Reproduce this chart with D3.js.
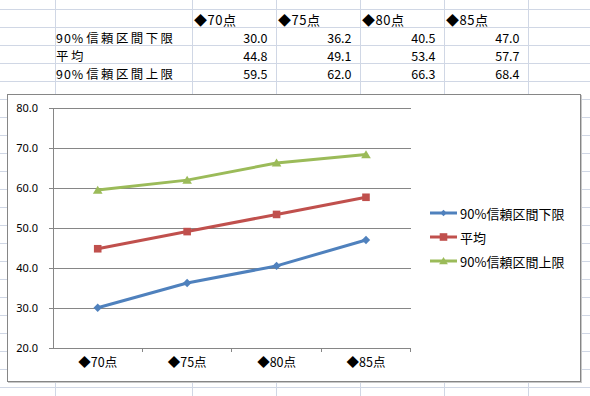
<!DOCTYPE html>
<html>
<head>
<meta charset="utf-8">
<script src="https://cdn.jsdelivr.net/npm/d3@7"></script>
<style>
  html, body { margin: 0; padding: 0; background: #fff; }
  svg { display: block; }
</style>
</head>
<body>
<div id="chart"></div>
<script>
// data
const categories = ["◆70点", "◆75点", "◆80点", "◆85点"];
const seriesNames = ["90%信頼区間下限", "平均", "90%信頼区間上限"];
const lower = [30.0, 36.2, 40.5, 47.0];
const mean = [44.8, 49.1, 53.4, 57.7];
const upper = [59.5, 62.0, 66.3, 68.4];
const yTicks = [20, 30, 40, 50, 60, 70, 80];

const width = 590;
const height = 396;

const series = [
  { name: seriesNames[0], values: lower, color: "#4F81BD", marker: "diamond" },
  { name: seriesNames[1], values: mean, color: "#C0504D", marker: "square" },
  { name: seriesNames[2], values: upper, color: "#9BBB59", marker: "triangle" }
];

const svg = d3.select("#chart").append("svg")
  .attr("width", width)
  .attr("height", height);

// spreadsheet grid behind everything
const colEdges = [55.5, 192.5, 276.5, 360.5, 444.5, 528.5];
const rowEdges = d3.range(0, 22).map(i => 9.5 + 18 * i).filter(y => y < height);

const grid = svg.append("g").attr("stroke", "#d0d7e5").attr("stroke-width", 1);
grid.selectAll("line.row").data(rowEdges).enter().append("line")
  .attr("x1", 0).attr("x2", width)
  .attr("y1", d => d).attr("y2", d => d);
grid.selectAll("line.col").data(colEdges).enter().append("line")
  .attr("y1", 0).attr("y2", height)
  .attr("x1", d => d).attr("x2", d => d);

// table text
const tableFont = "'Noto Sans CJK JP', sans-serif";
const rowCenters = [19.5, 37.5, 55.5, 73.5];

svg.append("g").selectAll("text").data(categories).enter().append("text")
  .attr("x", (d, i) => colEdges[i + 1] + 1.5)
  .attr("y", rowCenters[0])
  .attr("dominant-baseline", "central")
  .style("font-family", tableFont)
  .style("font-size", "13px")
  .style("letter-spacing", "0.5px")
  .text(d => d);

series.forEach((s, r) => {
  // ascii prefix ("90%") kept tighter than the kanji that follow
  const m = s.name.match(/^([\x00-\x7f]*)(.*)$/);
  const label = svg.append("text")
    .attr("x", colEdges[0] + 0.5)
    .attr("y", rowCenters[r + 1])
    .attr("dominant-baseline", "central")
    .style("font-family", tableFont)
    .style("font-size", "12.4px");
  if (m[1]) label.append("tspan").style("letter-spacing", "1px").text(m[1]);
  label.append("tspan").attr("dx", m[1] ? 2 : 0).style("letter-spacing", "2.5px").text(m[2]);

  svg.append("g").selectAll("text").data(s.values).enter().append("text")
    .attr("x", (d, i) => colEdges[i + 2] - 9)
    .attr("y", rowCenters[r + 1])
    .attr("text-anchor", "end")
    .attr("dominant-baseline", "central")
    .style("font-family", tableFont)
    .style("font-size", "12.5px")
    .text(d => d.toFixed(1));
});

// chart box
svg.append("rect")
  .attr("x", 8.5).attr("y", 95.5)
  .attr("width", 573).attr("height", 287)
  .attr("fill", "none").attr("stroke", "#c8c8c8");
svg.append("rect")
  .attr("x", 7.5).attr("y", 94.5)
  .attr("width", 573).attr("height", 287)
  .attr("fill", "#fff").attr("stroke", "#868686");

const plot = { left: 53, right: 410.7, top: 108.3, bottom: 347.7 };

const x = d3.scaleBand()
  .domain(categories)
  .range([plot.left, plot.right]);

const y = d3.scaleLinear()
  .domain([20, 80])
  .range([plot.bottom, plot.top]);

const axisFont = "'Noto Sans', 'Noto Sans CJK JP', sans-serif";

// horizontal gridlines
svg.append("g")
  .attr("transform", `translate(${plot.left},0)`)
  .call(d3.axisLeft(y).tickValues(yTicks).tickSize(-(plot.right - plot.left)).tickFormat(""))
  .call(g => g.select(".domain").remove())
  .call(g => g.selectAll("line").attr("stroke", "#868686").attr("shape-rendering", "crispEdges"));

// y axis
svg.append("g")
  .attr("transform", `translate(${plot.left},0)`)
  .call(d3.axisLeft(y).tickValues(yTicks).tickSize(4).tickPadding(11).tickFormat(d => d.toFixed(1)))
  .call(g => g.select(".domain").attr("stroke", "#868686").attr("shape-rendering", "crispEdges"))
  .call(g => g.selectAll("line").attr("stroke", "#868686").attr("shape-rendering", "crispEdges"))
  .call(g => g.selectAll("text").attr("fill", "#000")
    .style("font-family", axisFont).style("font-size", "11px"));

// x axis: labels centred, ticks on category boundaries
svg.append("g")
  .attr("transform", `translate(0,${plot.bottom})`)
  .call(d3.axisBottom(x).tickSize(0).tickPadding(10))
  .call(g => g.select(".domain").attr("stroke", "#868686").attr("shape-rendering", "crispEdges"))
  .call(g => g.selectAll("text").attr("fill", "#000")
    .style("font-family", "'Noto Sans CJK JP', sans-serif").style("font-size", "12.5px"));

const bounds = categories.map(c => x(c)).concat([plot.right]);
svg.append("g").selectAll("line").data(bounds.slice(1)).enter().append("line")
  .attr("x1", d => d).attr("x2", d => d)
  .attr("y1", plot.bottom).attr("y2", plot.bottom + 4)
  .attr("stroke", "#868686")
  .attr("shape-rendering", "crispEdges");

function markerPath(type, s) {
  if (type === "diamond") return `M0,${-s}L${s},0L0,${s}L${-s},0Z`;
  if (type === "square") return `M${-s},${-s}H${s}V${s}H${-s}Z`;
  return `M0,${-s * 1.05}L${s * 1.15},${s * 0.85}H${-s * 1.15}Z`;
}
const markerSize = { diamond: 4.2, square: 3.8, triangle: 4.2 };

const line = d3.line()
  .x((d, i) => x(categories[i]) + x.bandwidth() / 2)
  .y(d => y(d));

series.forEach(s => {
  svg.append("path")
    .datum(s.values)
    .attr("fill", "none")
    .attr("stroke", s.color)
    .attr("stroke-width", 3)
    .attr("stroke-linejoin", "round")
    .attr("d", line);

  svg.append("g").selectAll("path").data(s.values).enter().append("path")
    .attr("transform", (d, i) => `translate(${x(categories[i]) + x.bandwidth() / 2},${y(d)})`)
    .attr("d", markerPath(s.marker, markerSize[s.marker]))
    .attr("fill", s.color);
});

// legend
const legend = svg.append("g");
series.forEach((s, i) => {
  const ly = 213 + i * 24;
  legend.append("line")
    .attr("x1", 430).attr("x2", 457)
    .attr("y1", ly).attr("y2", ly)
    .attr("stroke", s.color).attr("stroke-width", 3);
  legend.append("path")
    .attr("transform", `translate(443.5,${ly})`)
    .attr("d", markerPath(s.marker, s.marker === "diamond" ? 3.2 : 3.8))
    .attr("fill", s.color);
  legend.append("text")
    .attr("x", 460).attr("y", ly)
    .attr("dominant-baseline", "central")
    .style("font-family", "'Noto Sans CJK JP', sans-serif")
    .style("font-size", "13px")
    .text(s.name);
});
</script>
</body>
</html>
